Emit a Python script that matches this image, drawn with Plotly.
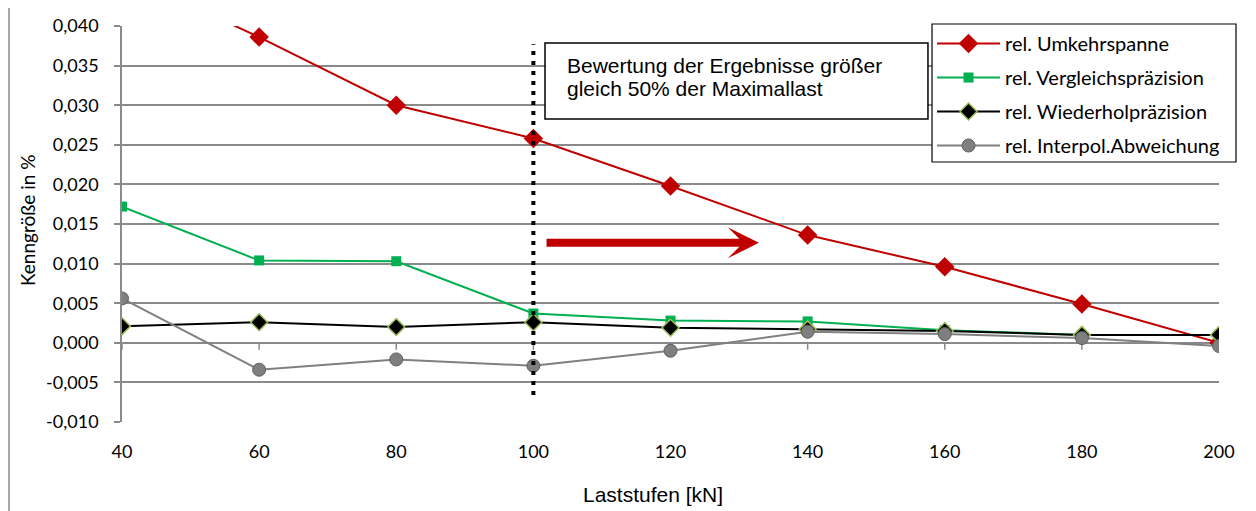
import plotly.graph_objects as go

laststufen = [40, 60, 80, 100, 120, 140, 160, 180, 200]
umkehrspanne = [0.0466, 0.0386, 0.0300, 0.0258, 0.0198, 0.0136, 0.0096, 0.0049, 0.0000]
vergleichspraezision = [0.0172, 0.0104, 0.0103, 0.0037, 0.0028, 0.0027, 0.0016, 0.0010, 0.0010]
wiederholpraezision = [0.0021, 0.0026, 0.0020, 0.0026, 0.0019, 0.0017, 0.0015, 0.0010, 0.0010]
interpol_abweichung = [0.0056, -0.0034, -0.0021, -0.0029, -0.0010, 0.0014, 0.0011, 0.0006, -0.0004]

y_ticks = [-0.010, -0.005, 0.0, 0.005, 0.010, 0.015, 0.020, 0.025, 0.030, 0.035, 0.040]
y_ticktext = ["-0,010", "-0,005", "0,000", "0,005", "0,010", "0,015",
              "0,020", "0,025", "0,030", "0,035", "0,040"]
x_ticks = [40, 60, 80, 100, 120, 140, 160, 180, 200]

FONT = "Lato"
GRID = "#8a8a8a"

fig = go.Figure()
fig.add_trace(go.Scatter(x=laststufen, y=umkehrspanne, name="rel. Umkehrspanne",
                         mode="lines+markers", legendgroup="a",
                         line=dict(color="#C00000", width=2),
                         marker=dict(symbol="diamond", size=15, color="#C00000")))
fig.add_trace(go.Scatter(x=laststufen, y=vergleichspraezision, name="rel. Vergleichspräzision",
                         mode="lines+markers", legendgroup="b",
                         line=dict(color="#00B050", width=2),
                         marker=dict(symbol="square", size=10, color="#00B050")))
fig.add_trace(go.Scatter(x=laststufen, y=wiederholpraezision, name="rel. Wiederholpräzision",
                         mode="lines+markers", legendgroup="c",
                         line=dict(color="#000000", width=2),
                         marker=dict(symbol="diamond", size=13, color="#000000",
                                     line=dict(color="#9BBB59", width=1.5))))
fig.add_trace(go.Scatter(x=laststufen, y=interpol_abweichung, name="rel. Interpol.Abweichung",
                         mode="lines+markers", legendgroup="d",
                         line=dict(color="#808080", width=2),
                         marker=dict(symbol="circle", size=13, color="#7f7f7f",
                                     line=dict(color="#5f5f5f", width=1))))

# small tick marks on the zero line
for xv in x_ticks:
    fig.add_shape(type="line", xref="x", yref="y", x0=xv, x1=xv,
                  ysizemode="pixel", yanchor=0, y0=0, y1=-7,
                  line=dict(color=GRID, width=1.5), layer="below")

# dotted separation line at 100 kN
fig.add_shape(type="line", xref="x", yref="y", x0=100, x1=100, y0=-0.0066, y1=0.0377,
              line=dict(color="black", width=4, dash="4px,6px"))

# outer frame
fig.add_shape(type="rect", xref="paper", yref="paper",
              x0=-0.103, x1=1.0292, y0=-0.25, y1=1.053,
              line=dict(color="#8c8c8c", width=1.5))

# legend frame
fig.add_shape(type="rect", xref="paper", yref="paper",
              x0=0.7384, x1=1.0155, y0=0.6566, y1=1.005,
              line=dict(color="black", width=1.2), fillcolor="white")

# text box
fig.add_shape(type="rect", xref="paper", yref="paper",
              x0=0.3856, x1=0.7347, y0=0.7652, y1=0.9571,
              line=dict(color="black", width=1.5), fillcolor="white")
box_lines = ["Bewertung der Ergebnisse größer", "gleich 50% der Maximallast"]
for i, txt in enumerate(box_lines):
    fig.add_annotation(xref="paper", yref="paper", x=0.4038, y=0.8995 - i * 0.058,
                       xanchor="left", yanchor="middle", align="left", text=txt,
                       font=dict(family="Liberation Sans", size=21, color="black"),
                       showarrow=False)

fig.add_annotation(x=132.9, y=0.01263, ax=101.7, ay=0.01263, xref="x", yref="y",
                   axref="x", ayref="y", text="", showarrow=True,
                   arrowhead=3, arrowwidth=8, arrowsize=0.65, arrowcolor="#C00000")

# axis titles
fig.add_annotation(xref="paper", yref="paper", x=0.484, y=-0.184,
                   xanchor="center", yanchor="middle", text="Laststufen [kN]",
                   font=dict(family="Liberation Sans", size=21, color="black"),
                   showarrow=False)
fig.add_annotation(xref="paper", yref="paper", x=-0.0866, y=0.51,
                   xanchor="center", yanchor="middle", text="Kenngröße in %",
                   textangle=-90, font=dict(family=FONT, size=19, color="black"),
                   showarrow=False)

# the page body has an 8px margin, so the figure is 8px smaller than the window
fig.update_layout(
    width=1248, height=503,
    margin=dict(l=114, r=37, t=18, b=89),
    plot_bgcolor="white", paper_bgcolor="white",
    font=dict(family=FONT, size=18, color="black"),
    showlegend=True,
    legend=dict(x=0.7384, y=1.005, xanchor="left", yanchor="top",
                bgcolor="rgba(0,0,0,0)", borderwidth=0,
                font=dict(family=FONT, size=20), tracegroupgap=5,
                traceorder="grouped", itemwidth=63),
    xaxis=dict(range=[40, 200], tickvals=x_ticks, showgrid=False, zeroline=False,
               showline=False, ticks="", ticklabelstandoff=17, automargin=False),
    yaxis=dict(range=[-0.010, 0.040], tickvals=y_ticks, ticktext=y_ticktext,
               showgrid=True, gridcolor=GRID, gridwidth=1.5, zeroline=False,
               showline=True, linecolor=GRID, linewidth=1.5, automargin=False,
               ticks="outside", ticklen=6, tickcolor=GRID, tickwidth=1.5,
               ticklabelstandoff=12),
)

fig.write_html("out.html")
